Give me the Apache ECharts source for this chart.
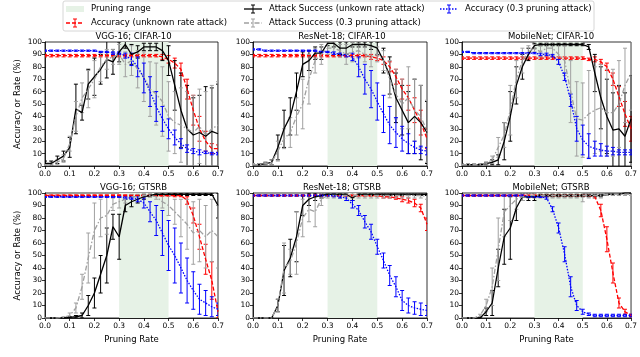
<!DOCTYPE html>
<html>
<head>
<meta charset="utf-8">
<script src="https://cdn.jsdelivr.net/npm/echarts@6/dist/echarts.min.js"></script>
<style>
  html, body { margin: 0; padding: 0; background: #fff; }
  #chart { width: 640px; height: 357px; }
</style>
</head>
<body>
<div id="chart"></div>
<script>
// pruning rates (x values shared by every panel)
var rates = [0, 0.025, 0.05, 0.075, 0.1, 0.125, 0.15, 0.175, 0.2, 0.225, 0.25, 0.275, 0.3, 0.325, 0.35,
  0.375, 0.4, 0.425, 0.45, 0.475, 0.5, 0.525, 0.55, 0.575, 0.6, 0.625, 0.65, 0.675, 0.7];
var rangeStart = 0.3, rangeEnd = 0.5;
var titles = ['VGG-16; CIFAR-10', 'ResNet-18; CIFAR-10', 'MobileNet; CIFAR-10',
  'VGG-16; GTSRB', 'ResNet-18; GTSRB', 'MobileNet; GTSRB'];
var xTicks = ['0.0', '0.1', '0.2', '0.3', '0.4', '0.5', '0.6', '0.7'];

// AccU = accuracy (unknown rate attack), AsrU = attack success (unkown rate attack)
// Asr3 = attack success (0.3 pruning attack), Acc3 = accuracy (0.3 pruning attack)

// VGG-16; CIFAR-10
var p1AccU = [89,89,89,89,89,89,89,89,89,89,89,89,89,89,89,89,89,89,89,88,86,83,78,62,45,30,20,14,14];
var p1AccUErr = [1,1,1,1,1,1,1,1,1,1,1,1,1,1,1,1,1,1,1,2,3,4,5,8,12,10,8,4,3];
var p1AsrU = [2,2,5,8,15,46,43,66,72,78,86,84,92,98,90,92,96,96,96,93,85,65,45,30,25,27,24,28,26];
var p1AsrUErr = [2,2,3,4,8,20,6,12,15,12,15,10,8,3,8,5,3,3,3,8,12,20,30,35,30,30,40,35,40];
var p1Asr3 = [1,1,3,6,18,40,55,62,70,80,86,88,90,82,85,78,72,62,58,52,40,35,33,30,27,32,25,30,33];
var p1Asr3Err = [1,1,2,3,6,12,12,15,15,12,8,6,8,10,12,15,20,22,25,28,28,25,30,30,30,30,35,35,35];
var p1Acc3 = [93,93,93,93,93,93,93,93,93,92,92,91,91,89,86,80,71,60,48,38,30,23,18,14,12,11,11,10,10];
var p1Acc3Err = [0.5,0.5,0.5,0.5,0.5,0.5,0.5,0.5,0.5,0.5,0.5,1,1,2,5,8,12,12,12,10,8,6,4,3,2,2,1,1,1];

// ResNet-18; CIFAR-10
var p2AccU = [89,89,89,89,89,89,89,89,89,89,89,89,89,89,89,89,89,89,89,88,87,85,80,72,62,55,45,35,22];
var p2AccUErr = [1,1,1,1,1,1,1,1,1,1,1,1,1,1,1,1,1,1,1,2,2,3,4,6,8,10,10,10,8];
var p2AsrU = [1,1,2,3,15,30,40,60,82,85,91,91,99,99,95,95,98,98,98,97,95,85,73,55,45,35,40,35,27];
var p2AsrUErr = [1,1,1,2,10,15,15,15,10,8,5,5,2,3,5,5,2,2,2,3,5,10,15,20,20,25,30,30,25];
var p2Asr3 = [1,1,2,3,12,22,27,40,50,70,85,90,95,95,93,90,92,93,90,88,90,85,70,58,50,55,45,40,28];
var p2Asr3Err = [1,1,1,2,8,8,12,15,20,20,10,8,5,5,5,8,8,6,6,8,6,8,15,20,20,25,25,25,25];
var p2Acc3 = [94,94,93,93,93,93,93,93,93,93,93,92,92,91,90,89,88,80,70,62,52,42,33,27,22,18,15,13,12];
var p2Acc3Err = [0.5,0.5,0.5,0.5,0.5,0.5,0.5,0.5,0.5,0.5,0.5,0.5,0.5,1,1,1,3,8,12,15,15,15,15,12,10,8,5,3,3];

// MobileNet; CIFAR-10
var p3AccU = [87,87,87,87,87,87,87,87,87,87,87,87,87,87,87,87,87,87,87,87,87,86,86,84,80,70,56,42,30];
var p3AccUErr = [1,1,1,1,1,1,1,1,1,1,1,1,1,1,1,1,1,1,1,1,1,1,2,2,3,5,8,10,10];
var p3AsrU = [1,1,1,1,2,3,5,20,40,65,80,90,97,98,98,98,98,98,98,98,98,96,75,55,40,29,30,24,38];
var p3AsrUErr = [0.5,0.5,0.5,0.5,1,2,4,15,20,15,10,5,2,1,1,1,1,1,1,1,1,2,15,25,30,30,35,35,35];
var p3Asr3 = [1,1,1,1,2,5,15,25,45,70,85,92,95,92,95,95,90,85,60,38,37,42,45,47,43,43,50,65,75];
var p3Asr3Err = [0.5,0.5,0.5,0.5,1,3,8,10,20,15,10,5,3,5,5,6,8,12,25,30,30,35,35,35,35,35,35,30,30];
var p3Acc3 = [92,92,91,91,91,91,91,91,91,91,91,91,91,90,90,89,84,72,53,30,21,16,14,13,12,12,11,11,11];
var p3Acc3Err = [0.5,0.5,0.5,0.5,0.5,0.5,0.5,0.5,0.5,0.5,0.5,0.5,0.5,1,1,1,2,3,5,10,12,10,6,5,4,3,2,2,2];

// VGG-16; GTSRB
var p4AccU = [98,98,98,98,98,98,98,98,98,98,98,98,98,98,98,98,98,98,98,98,98,98,98,94,82,65,47,30,5];
var p4AccUErr = [0.5,0.5,0.5,0.5,0.5,0.5,0.5,0.5,0.5,0.5,0.5,0.5,0.5,0.5,0.5,0.5,0.5,0.5,0.5,0.5,0.5,1,1,3,6,10,12,15,5];
var p4AsrU = [0,0,0,0,0.5,1,2,10,20,35,50,73,65,90,93,95,97,98,99,99,99,99,99,99,99,99,99,99,90];
var p4AsrUErr = [0,0,0,0,0.5,1,2,8,12,15,22,10,18,5,4,3,2,1,1,1,1,1,1,1,1,1,1,1,10];
var p4Asr3 = [0,0,0,0.5,2,8,25,48,70,80,82,91,93,95,97,97,98,98,97,93,90,85,80,75,68,70,65,70,65];
var p4Asr3Err = [0,0,0,0.5,2,4,10,20,22,15,15,5,5,3,2,2,1,1,2,5,8,10,15,20,25,25,25,25,25];
var p4Acc3 = [97,97,97,97,97,97,97,97,97,97,97,97,97,96,96,95,92,85,78,68,58,50,40,30,22,15,12,9,7];
var p4Acc3Err = [0.5,0.5,0.5,0.5,0.5,0.5,0.5,0.5,0.5,0.5,0.5,0.5,0.5,1,1,2,4,8,12,18,20,22,20,18,15,12,10,8,5];

// ResNet-18; GTSRB
var p5AccU = [98,98,98,98,98,98,98,98,98,98,98,98,98,98,98,98,98,98,98,98,98,97,97,96,95,94,92,88,75];
var p5AccUErr = [0.5,0.5,0.5,0.5,0.5,0.5,0.5,0.5,0.5,0.5,0.5,0.5,0.5,0.5,0.5,0.5,0.5,0.5,0.5,0.5,0.5,1,1,1,2,2,3,3,5];
var p5AsrU = [0,0,0,0,10,38,48,65,90,95,97,98,99,99,99,99,96,99,99,99,99,99,99,99,99,99,99,99,99];
var p5AsrUErr = [0,0,0,0,5,20,15,20,8,5,3,2,1,1,1,1,2,1,1,1,1,1,1,1,1,1,1,1,1];
var p5Asr3 = [0,0,0,0,10,40,45,60,80,87,85,95,98,98,98,98,98,98,98,98,98,98,98,98,98,98,98,98,97];
var p5Asr3Err = [0,0,0,0,5,20,10,25,15,10,12,5,2,2,2,2,2,2,2,2,2,2,2,2,2,2,2,2,2];
var p5Acc3 = [98,98,98,98,98,98,98,98,98,98,98,98,98,98,97,96,91,86,77,69,57,46,34,25,14,10,8,7,6];
var p5Acc3Err = [0.5,0.5,0.5,0.5,0.5,0.5,0.5,0.5,0.5,0.5,0.5,0.5,0.5,1,1,2,3,4,5,6,6,6,8,8,8,6,5,5,4];

// MobileNet; GTSRB
var p6AccU = [98,98,98,98,98,98,98,98,98,98,98,98,98,98,98,98,98,98,98,98,98,98,97,86,63,36,12,5,2];
var p6AccUErr = [0.5,0.5,0.5,0.5,0.5,0.5,0.5,0.5,0.5,0.5,0.5,0.5,0.5,0.5,0.5,0.5,0.5,0.5,0.5,0.5,0.5,0.5,1,5,10,8,4,2,1];
var p6AsrU = [0,0,0,0,5,12,40,65,72,88,97,97,97,98,98,98,98,98,98,98,98,98,98,98,99,99,99,100,100];
var p6AsrUErr = [0,0,0,0,3,10,15,22,25,10,3,3,3,1,1,1,1,1,1,1,1,1,1,1,1,1,1,0.5,0.5];
var p6Asr3 = [0,0,0,2,10,25,55,85,90,95,97,98,98,98,98,98,98,98,98,98,98,98,98,98,99,99,99,99,99];
var p6Asr3Err = [0,0,0,1,5,15,25,20,12,8,3,2,2,2,2,2,2,2,2,2,5,2,2,2,1,1,1,1,1];
var p6Acc3 = [98,98,98,98,98,98,98,98,98,98,98,97,97,97,96,87,72,51,25,10,5,3,2,2,2,2,2,2,2];
var p6Acc3Err = [0.5,0.5,0.5,0.5,0.5,0.5,0.5,0.5,0.5,0.5,0.5,0.5,0.5,0.5,1,2,4,6,8,4,2,1,1,1,1,1,1,1,1];

var panels = [
  [p1AccU, p1AccUErr, p1AsrU, p1AsrUErr, p1Asr3, p1Asr3Err, p1Acc3, p1Acc3Err],
  [p2AccU, p2AccUErr, p2AsrU, p2AsrUErr, p2Asr3, p2Asr3Err, p2Acc3, p2Acc3Err],
  [p3AccU, p3AccUErr, p3AsrU, p3AsrUErr, p3Asr3, p3Asr3Err, p3Acc3, p3Acc3Err],
  [p4AccU, p4AccUErr, p4AsrU, p4AsrUErr, p4Asr3, p4Asr3Err, p4Acc3, p4Acc3Err],
  [p5AccU, p5AccUErr, p5AsrU, p5AsrUErr, p5Asr3, p5Asr3Err, p5Acc3, p5Acc3Err],
  [p6AccU, p6AccUErr, p6AsrU, p6AsrUErr, p6Asr3, p6Asr3Err, p6Acc3, p6Acc3Err]
];

var FONT = 'DejaVu Sans';
var SHADE = '#e6f2e6';
// colour + dash of each series, same order as in the panels rows
var styles = [
  {color: '#ff0000', dash: [4, 2]},
  {color: '#000000', dash: 'solid'},
  {color: '#a0a0a0', dash: [5, 2, 1.5, 2]},
  {color: '#0000ff', dash: [1.5, 1.5]}
];

// plot boxes: left, top, width, height
var boxes = [[45, 42, 173, 124], [253, 42, 174, 124], [462, 42, 174, 124],
             [45, 193, 173, 125], [253, 193, 174, 125], [462, 193, 174, 125]];

function pairs(ys) { return rates.map(function (x, i) { return [x, ys[i]]; }); }
function bars(ys, err) { return rates.map(function (x, i) { return [x, ys[i] - err[i], ys[i] + err[i]]; }); }

function errBar(color) {
  return function (params, api) {
    var x = api.value(0);
    var lo = api.coord([x, api.value(1)]);
    var hi = api.coord([x, api.value(2)]);
    var st = {stroke: color, lineWidth: 1};
    return {type: 'group', children: [
      {type: 'line', shape: {x1: lo[0], y1: lo[1], x2: hi[0], y2: hi[1]}, style: st},
      {type: 'line', shape: {x1: lo[0] - 2, y1: lo[1], x2: lo[0] + 2, y2: lo[1]}, style: st},
      {type: 'line', shape: {x1: hi[0] - 2, y1: hi[1], x2: hi[0] + 2, y2: hi[1]}, style: st}
    ]};
  };
}

function shadeItem(params, api) {
  var a = api.coord([api.value(0), 100]);
  var b = api.coord([api.value(1), 0]);
  return {type: 'rect', shape: {x: a[0], y: a[1], width: b[0] - a[0], height: b[1] - a[1]},
          style: {fill: SHADE}};
}

var grid = [], xAxis = [], yAxis = [], title = [], series = [];
boxes.forEach(function (b, i) {
  grid.push({left: b[0], top: b[1], width: b[2], height: b[3], show: true,
             borderColor: '#000', borderWidth: 0.8, backgroundColor: 'transparent'});
  title.push({text: titles[i], left: b[0] + b[2] / 2 - 3, top: b[1] - 15, textAlign: 'center',
              textStyle: {fontFamily: FONT, fontSize: 8.5, fontWeight: 'normal', color: '#000'}});
  xAxis.push({
    gridIndex: i, type: 'value', min: 0, max: 0.7, interval: 0.1,
    name: i >= 3 ? 'Pruning Rate' : '', nameLocation: 'middle', nameGap: 17,
    nameTextStyle: {fontFamily: FONT, fontSize: 8.5, color: '#000'},
    axisLine: {show: true, onZero: false, lineStyle: {color: '#000', width: 0.8}},
    axisTick: {show: true, length: 3, lineStyle: {color: '#000', width: 0.8}},
    axisLabel: {fontFamily: FONT, fontSize: 7.5, color: '#000', margin: 4,
                formatter: function (v) { return xTicks[Math.round(v * 10)]; }},
    splitLine: {show: false}
  });
  yAxis.push({
    gridIndex: i, type: 'value', min: 0, max: 100, interval: 10,
    name: i % 3 === 0 ? 'Accuracy or Rate (%)' : '', nameLocation: 'middle', nameGap: 23,
    nameTextStyle: {fontFamily: FONT, fontSize: 8.5, color: '#000'},
    axisLine: {show: true, lineStyle: {color: '#000', width: 0.8}},
    axisTick: {show: true, length: 3, lineStyle: {color: '#000', width: 0.8}},
    axisLabel: {fontFamily: FONT, fontSize: 7.5, color: '#000', margin: 3},
    splitLine: {show: false}
  });
  series.push({type: 'custom', xAxisIndex: i, yAxisIndex: i, data: [[rangeStart, rangeEnd]],
               encode: {x: [0, 1]}, renderItem: shadeItem, silent: true, z: 1});
  var p = panels[i];
  styles.forEach(function (s, k) {
    var ys = p[k * 2], err = p[k * 2 + 1];
    series.push({type: 'custom', xAxisIndex: i, yAxisIndex: i, data: bars(ys, err),
                 encode: {x: 0, y: [1, 2]}, renderItem: errBar(s.color), clip: true, silent: true, z: 2});
    series.push({type: 'line', xAxisIndex: i, yAxisIndex: i, data: pairs(ys), symbol: 'none',
                 showSymbol: false, clip: true, silent: true, z: 2,
                 lineStyle: {color: s.color, width: 1.3, type: s.dash}, itemStyle: {color: s.color}});
  });
});

// legend, drawn by hand to get the error-bar glyphs
var legendItems = [
  {label: 'Pruning range', x: 66, y: 9, kind: 'patch'},
  {label: 'Accuracy (unknown rate attack)', x: 66, y: 23, kind: 0},
  {label: 'Attack Success (unkown rate attack)', x: 244, y: 9, kind: 1},
  {label: 'Attack Success (0.3 pruning attack)', x: 244, y: 23, kind: 2},
  {label: 'Accuracy (0.3 pruning attack)', x: 440, y: 9, kind: 3}
];
var graphic = [{type: 'rect', shape: {x: 63, y: 1, width: 531, height: 30, r: 2},
                style: {fill: '#fff', stroke: '#cccccc', lineWidth: 0.8}, z: 10}];
legendItems.forEach(function (it) {
  if (it.kind === 'patch') {
    graphic.push({type: 'rect', shape: {x: it.x, y: it.y - 3, width: 18, height: 6},
                  style: {fill: SHADE}, z: 11});
  } else {
    var s = styles[it.kind];
    var ld = s.dash === 'solid' ? null : s.dash;
    graphic.push({type: 'line', shape: {x1: it.x, y1: it.y, x2: it.x + 18, y2: it.y},
                  style: {stroke: s.color, lineWidth: 1.3, lineDash: ld}, z: 11});
    var cx = it.x + 9;
    graphic.push({type: 'line', shape: {x1: cx, y1: it.y - 4, x2: cx, y2: it.y + 4},
                  style: {stroke: s.color, lineWidth: 1}, z: 11});
    graphic.push({type: 'line', shape: {x1: cx - 2, y1: it.y - 4, x2: cx + 2, y2: it.y - 4},
                  style: {stroke: s.color, lineWidth: 1}, z: 11});
    graphic.push({type: 'line', shape: {x1: cx - 2, y1: it.y + 4, x2: cx + 2, y2: it.y + 4},
                  style: {stroke: s.color, lineWidth: 1}, z: 11});
  }
  graphic.push({type: 'text', x: it.x + 25, y: it.y,
                style: {text: it.label, fontFamily: FONT, fontSize: 8.5, fill: '#000',
                        textVerticalAlign: 'middle', verticalAlign: 'middle'}, z: 11});
});

var chart = echarts.init(document.getElementById('chart'));
chart.setOption({
  animation: false,
  backgroundColor: '#fff',
  title: title,
  grid: grid,
  xAxis: xAxis,
  yAxis: yAxis,
  series: series,
  graphic: graphic
});
</script>
</body>
</html>
